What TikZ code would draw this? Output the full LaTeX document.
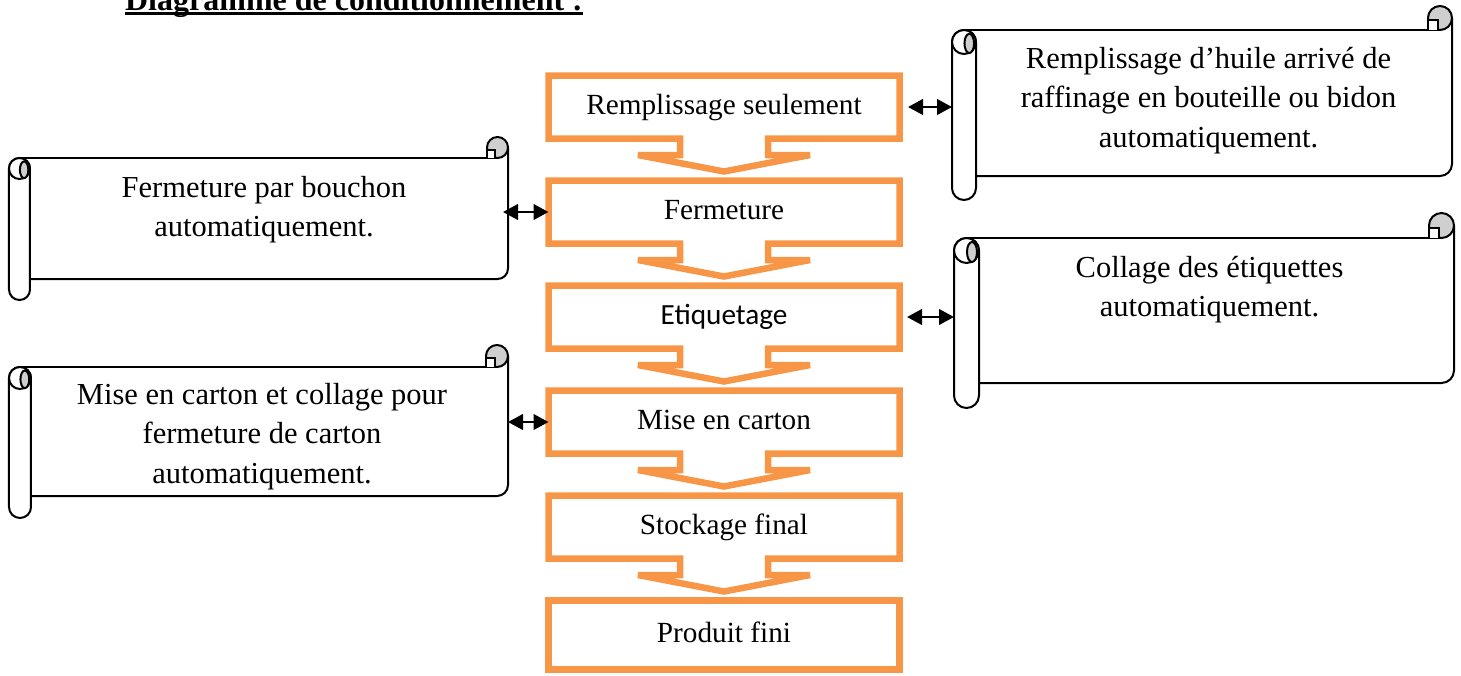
\documentclass[tikz,border=0pt]{standalone}
\usepackage{fontspec}
\setmainfont{Liberation Serif}
\newfontfamily\etiqfont{Carlito}
\usetikzlibrary{positioning,arrows.meta}

\definecolor{flowcolor}{HTML}{F79646}
\definecolor{curlcolor}{HTML}{CFCFCF}

% banner round a body node: #1 node, #2 width, #3 height, #4 roll size (px)
\newcommand\drawscroll[4]{%
  \pgfmathsetlengthmacro\scrR{#4*0.2pt}%
  \pgfmathsetlengthmacro\scrRx{#4*0.08pt}%
  \pgfmathsetlengthmacro\scrRy{#4*0.16pt}%
  \begin{scope}[shift={(#1.north west)}]
    \fill[white] (0,0) rectangle (#2,#3);
    \draw[scrollline] (#4/2,0) -- (#2-#4/2,0);
    \draw[scrollline, rounded corners=\scrR] (#2,-#4/2) -- (#2,#3) -- (#4,#3);
    \draw[scrollline, fill=curlcolor] (#2-#4/2,-#4/2) circle[radius=\scrR];
    \draw[scrollline] (#2-#4,-#4/2) -- (#2-#4,0);
    \draw[scrollline, fill=white] (#2-#4,0) -- (#2-#4,-#4*0.4) -- (#2-#4*0.6,-#4*0.4) -- (#2-#4*0.6,0);
    \draw[scrollline, fill=white, rounded corners=\scrR] (0,0) rectangle (#4,#3+#4);
    \draw[scrollline, fill=white] (#4/2,#4/2) circle[radius=\scrR];
    \draw[scrollline, fill=curlcolor] (#4*0.72,#4*0.56) ellipse[x radius=\scrRx, y radius=\scrRy];
  \end{scope}}

\begin{document}
\begin{tikzpicture}[x=0.4pt, y=-0.4pt, node distance=16.8pt,
    flowbox/.style={minimum width=140.4pt, minimum height=25.2pt, inner sep=0pt, outer sep=0pt,
      font=\fontsize{11.7}{14}\selectfont, text height=8.1pt, text depth=2.5pt},
    flowline/.style={draw=flowcolor, line width=2.6pt, line join=miter},
    scrollline/.style={draw=black, line width=0.8pt},
    notebody/.style={inner sep=0pt, outer sep=0pt},
    notetext/.style={align=center, inner sep=0pt, font=\fontsize{12.2}{15.8}\selectfont},
    link/.style={{Triangle[length=6pt,width=6.2pt]}-{Triangle[length=6pt,width=6.2pt]}, line width=1pt}]

\useasboundingbox (0,0) rectangle (1461,675);

% title
\node[inner sep=0pt, anchor=base, font=\bfseries\fontsize{12.8}{15}\selectfont] (title) at (354,10) {Diagramme de conditionnement :};
\draw[line width=1.1pt] ([yshift=-1.4pt]title.base west) -- ([yshift=-1.4pt]title.base east);

% chain of steps
\node[flowbox] (fillbox) at (724,107) {Remplissage seulement};
\node[flowbox, below=of fillbox] (closebox) {Fermeture};
\node[flowbox, below=of closebox] (labelbox) {\etiqfont Etiquetage};
\node[flowbox, below=of labelbox] (cartonbox) {Mise en carton};
\node[flowbox, below=of cartonbox] (stockbox) {Stockage final};
\node[flowbox, below=of stockbox, minimum height=27.6pt] (productbox) {Produit fini};

\foreach \b in {fillbox,closebox,labelbox,cartonbox,stockbox}
  \draw[flowline] (\b.south west) -- (\b.north west) -- (\b.north east) -- (\b.south east)
    -- ([xshift=17.6pt]\b.south) -- ([xshift=17.6pt,yshift=-6.6pt]\b.south)
    -- ([xshift=34.4pt,yshift=-6.6pt]\b.south) -- ([yshift=-13.2pt]\b.south)
    -- ([xshift=-34.4pt,yshift=-6.6pt]\b.south) -- ([xshift=-17.6pt,yshift=-6.6pt]\b.south)
    -- ([xshift=-17.6pt]\b.south) -- cycle;
\draw[flowline] (productbox.south west) rectangle (productbox.north east);

% notes
\node[notebody, minimum width=200pt, minimum height=58.4pt] (fillnote) at (1202,103) {};
\drawscroll{fillnote}{500}{146}{24}
\node[notetext, below=6.7pt of fillnote.north, xshift=2.6pt] (filltext) {Remplissage d’huile arrivé de\\raffinage en bouteille ou bidon\\automatiquement.};

\node[notebody, minimum width=199.6pt, minimum height=48.4pt] (closenote) at (258.5,218.5) {};
\drawscroll{closenote}{499}{121}{21}
\node[notetext, below=7pt of closenote.north, xshift=2.2pt] (closetext) {Fermeture par bouchon\\automatiquement.};

\node[notebody, minimum width=200pt, minimum height=58pt] (labelnote) at (1204,310.5) {};
\drawscroll{labelnote}{500}{145}{25}
\node[notetext, below=7pt of labelnote.north, xshift=2.2pt] (labeltext) {Collage des étiquettes\\automatiquement.};

\node[notebody, minimum width=199.6pt, minimum height=51.6pt] (cartonnote) at (258.5,431.5) {};
\drawscroll{cartonnote}{499}{129}{22}
\node[notetext, below=6.3pt of cartonnote.north, xshift=1.4pt] (cartontext) {Mise en carton et collage pour\\fermeture de carton\\automatiquement.};

% links
\draw[link] ([xshift=3.4pt]fillbox.east) -- (fillbox.east -| fillnote.west);
\draw[link] ([xshift=-2pt]closebox.west -| closenote.east) -- (closebox.west);
\draw[link] ([xshift=3pt]labelbox.east) -- (labelbox.east -| labelnote.west);
\draw[link] (cartonbox.west -| cartonnote.east) -- (cartonbox.west);
\end{tikzpicture}
\end{document}
